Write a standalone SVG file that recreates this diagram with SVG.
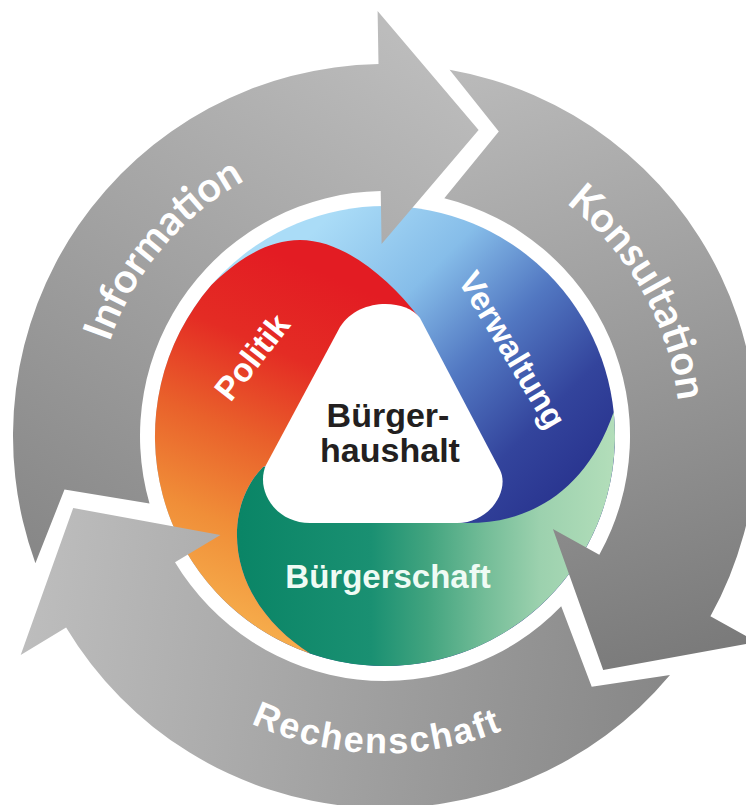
<svg xmlns="http://www.w3.org/2000/svg" width="746" height="805" viewBox="0 0 746 805">
<defs>
<linearGradient id="gBlue" gradientUnits="userSpaceOnUse" x1="320" y1="225" x2="580" y2="485">
<stop offset="0" stop-color="#aadcf7"/>
<stop offset="0.3" stop-color="#86bde9"/>
<stop offset="0.55" stop-color="#5278c2"/>
<stop offset="0.8" stop-color="#33449c"/>
<stop offset="1" stop-color="#29348f"/>
</linearGradient>
<linearGradient id="gRed" gradientUnits="userSpaceOnUse" x1="340" y1="280" x2="200" y2="610">
<stop offset="0" stop-color="#e31c23"/>
<stop offset="0.25" stop-color="#e42c24"/>
<stop offset="0.5" stop-color="#e9612b"/>
<stop offset="0.75" stop-color="#f08e38"/>
<stop offset="1" stop-color="#f6ad4c"/>
</linearGradient>
<linearGradient id="gGreen" gradientUnits="userSpaceOnUse" x1="240" y1="0" x2="615" y2="0">
<stop offset="0" stop-color="#0a8566"/>
<stop offset="0.35" stop-color="#1a9072"/>
<stop offset="0.5" stop-color="#42a47f"/>
<stop offset="0.65" stop-color="#72bc97"/>
<stop offset="0.8" stop-color="#9cd1ae"/>
<stop offset="1" stop-color="#b3deba"/>
</linearGradient>
<linearGradient id="gInfo" gradientUnits="userSpaceOnUse" x1="400" y1="40" x2="60" y2="560">
<stop offset="0" stop-color="#bcbcbc"/>
<stop offset="1" stop-color="#888888"/>
</linearGradient>
<linearGradient id="gKons" gradientUnits="userSpaceOnUse" x1="470" y1="70" x2="660" y2="670">
<stop offset="0" stop-color="#bababa"/>
<stop offset="1" stop-color="#7a7a7a"/>
</linearGradient>
<linearGradient id="gRech" gradientUnits="userSpaceOnUse" x1="30" y1="600" x2="680" y2="690">
<stop offset="0" stop-color="#bdbdbd"/>
<stop offset="1" stop-color="#868686"/>
</linearGradient>
<path id="pInfo" d="M 95.1,410.6 A 291 291 0 0 1 309.7,154.9"/>
<path id="pKons" d="M 512,169.7 A 295 295 0 0 1 678.6,464.3"/>
<path id="pRech" d="M 243.6,719.7 A 314 314 0 0 0 511.4,726.7"/>
</defs>
<style>
.lbl { font-family: "Liberation Sans", Arial, Helvetica, sans-serif; font-weight: bold; }
.ring { font-family: Lato, "Open Sans", "Liberation Sans", sans-serif; font-weight: 700; fill: #ffffff; font-size: 41px; }
</style>
<rect x="0" y="0" width="746" height="805" fill="#ffffff"/>

<g id="verwaltung">
<circle cx="385" cy="436" r="230" fill="url(#gBlue)"/>
<text class="lbl" x="0" y="0" font-size="33" fill="#ffffff" text-anchor="middle" transform="translate(502.6,355.7) rotate(59)">Verwaltung</text>
</g>
<g id="buergerschaft">
<path d="M 613.7,412 A 230 230 0 0 1 310.1,653.5 C 270,628 235,585 237,530 C 238,505 248,482 263,467 L 380,470 L 462,523 C 525,525 585,495 613.7,412 Z" fill="url(#gGreen)"/>
<text class="lbl" x="388" y="588" font-size="33" fill="#effbf4" text-anchor="middle">Bürgerschaft</text>
</g>
<g id="politik">
<path d="M 211.4,285.1 C 235,262 265,240 300,240 C 345,240 390,280 418,316 L 330,440 L 263,467 C 248,482 238,505 237,530 C 235,585 270,628 310.1,653.5 A 230 230 0 0 1 211.4,285.1 Z" fill="url(#gRed)"/>
<text class="lbl" x="0" y="0" font-size="33" fill="#ffffff" text-anchor="middle" transform="translate(261,364) rotate(-52)">Politik</text>
</g>
<g id="buergerhaushalt">
<path d="M 340,327 L 266,465 C 255,490 275,523 310,523 L 457,523 C 490,523 510,490 500,470 L 420,318 C 405,298 358,298 340,327 Z" fill="#ffffff"/>
<text class="lbl" x="388" y="427" font-size="34" fill="#231f20" text-anchor="middle">Bürger-</text>
<text class="lbl" x="390" y="462" font-size="34" fill="#231f20" text-anchor="middle">haushalt</text>
</g>

<g id="cycle-arrows">
<g id="information">
<path d="M 35.4,563.2 A 372 372 0 0 1 378.5,64.1 L 377.6,11.1 L 478.6,130 L 381.6,244 L 380.7,191 A 245 245 0 0 0 149.5,503.5 L 64.5,489.6 Z" fill="url(#gInfo)"/>
<text class="ring"><textPath href="#pInfo" startOffset="50%" text-anchor="middle">Information</textPath></text>
</g>
<g id="konsultation">
<path d="M 449.6,69.7 A 372 372 0 0 1 710.4,616.3 L 756.7,642 L 603.2,670 L 552.9,529.1 L 599.3,554.8 A 245 245 0 0 0 444.3,198.3 L 498.8,131.6 Z" fill="url(#gKons)"/>
<text class="ring"><textPath href="#pKons" startOffset="50%" text-anchor="middle">Konsultation</textPath></text>
</g>
<g id="rechenschaft">
<path d="M 670,675.1 A 372 372 0 0 1 66.1,627.6 L 20.7,654.9 L 73.2,508 L 220.4,534.9 L 175,562.2 A 245 245 0 0 0 561.2,606.2 L 591.7,686.8 Z" fill="url(#gRech)"/>
<text class="lbl" font-size="36" fill="#ffffff" letter-spacing="2"><textPath href="#pRech" startOffset="50%" text-anchor="middle">Rechenschaft</textPath></text>
</g>
</g>
</svg>
